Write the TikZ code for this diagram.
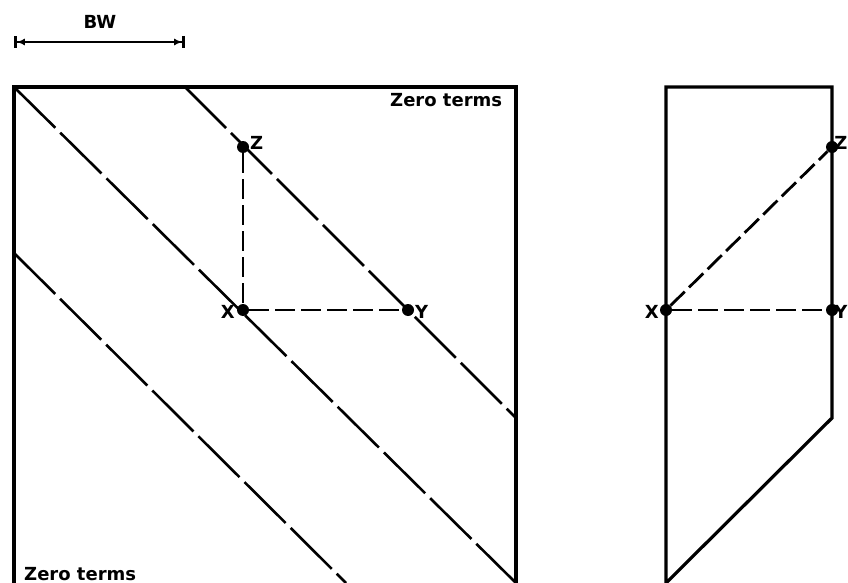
\documentclass[tikz,border=0pt]{standalone}
\usepackage{fontspec}
\setmainfont{DejaVu Sans}
\usetikzlibrary{arrows.meta}
\begin{document}
\begin{tikzpicture}[x=1pt,y=-1pt,
  frame/.style={line width=3.2pt,line join=miter},
  band/.style={line width=2.6pt,dash pattern=on 58pt off 7pt},
  link/.style={line width=2.8pt,dash pattern=on 20pt off 6pt},
  dot/.style={circle,fill=black,inner sep=0pt,minimum size=12pt},
  lbl/.style={font=\bfseries\fontsize{18}{18}\selectfont,inner sep=0pt},
  txt/.style={font=\bfseries\fontsize{18}{18}\selectfont,inner sep=0pt,anchor=base west}]
\useasboundingbox (0,0) rectangle (848,583);
% left square
\coordinate (TL) at (14,87);
\coordinate (TR) at (516,87);
\coordinate (BL) at (14,583);
\coordinate (BR) at (516,583);
\draw[frame] (BL) -- (TL) -- (TR) -- (BR);
% band lines
\coordinate (U1) at (185,87);
\coordinate (U2) at (516,418);
\coordinate (L1) at (14,253);
\coordinate (L2) at (346,583);
\draw[band] (TL) -- (BR);
\draw[band] (U1) -- (U2);
\draw[band] (L1) -- (L2);
% points
\node[dot] (Z) at (243,147) {};
\node[dot] (X) at (243,310) {};
\node[dot] (Y) at (408,310) {};
\draw[link] (Z) -- (X);
\draw[link] (X) -- (Y);
\node[lbl,anchor=west] (Zl) at (250,143) {Z};
\node[lbl,anchor=east] (Xl) at (235,312) {X};
\node[lbl,anchor=west] (Yl) at (415,312) {Y};
% BW dimension
\coordinate (B1) at (14,42);
\coordinate (B2) at (185,42);
\draw[line width=2.8pt,{Bar[width=12pt]Latex[length=8pt,width=7pt]}-{Latex[length=8pt,width=7pt]Bar[width=12pt]}] (B1) -- (B2);
\node[lbl] (BW) at (100,22) {BW};
% zero terms labels
\node[txt] (ZT1) at (390,107) {Zero terms};
\node[txt] (ZT2) at (24,580) {Zero terms};
% right figure
\coordinate (RTL) at (666,87);
\coordinate (RTR) at (832,87);
\coordinate (RK) at (832,418);
\coordinate (RB) at (666,583);
\draw[frame] (RB) -- (RTL) -- (RTR) -- (RK) -- (RB);
\node[dot] (Z2) at (832,147) {};
\node[dot] (X2) at (666,310) {};
\node[dot] (Y2) at (832,310) {};
\draw[link] (X2) -- (Z2);
\draw[link] (X2) -- (Y2);
\node[lbl,anchor=east] (Z2l) at (847.5,143) {Z};
\node[lbl,anchor=east] (X2l) at (659,312) {X};
\node[lbl,anchor=east] (Y2l) at (847.5,312) {Y};
\end{tikzpicture}
\end{document}
